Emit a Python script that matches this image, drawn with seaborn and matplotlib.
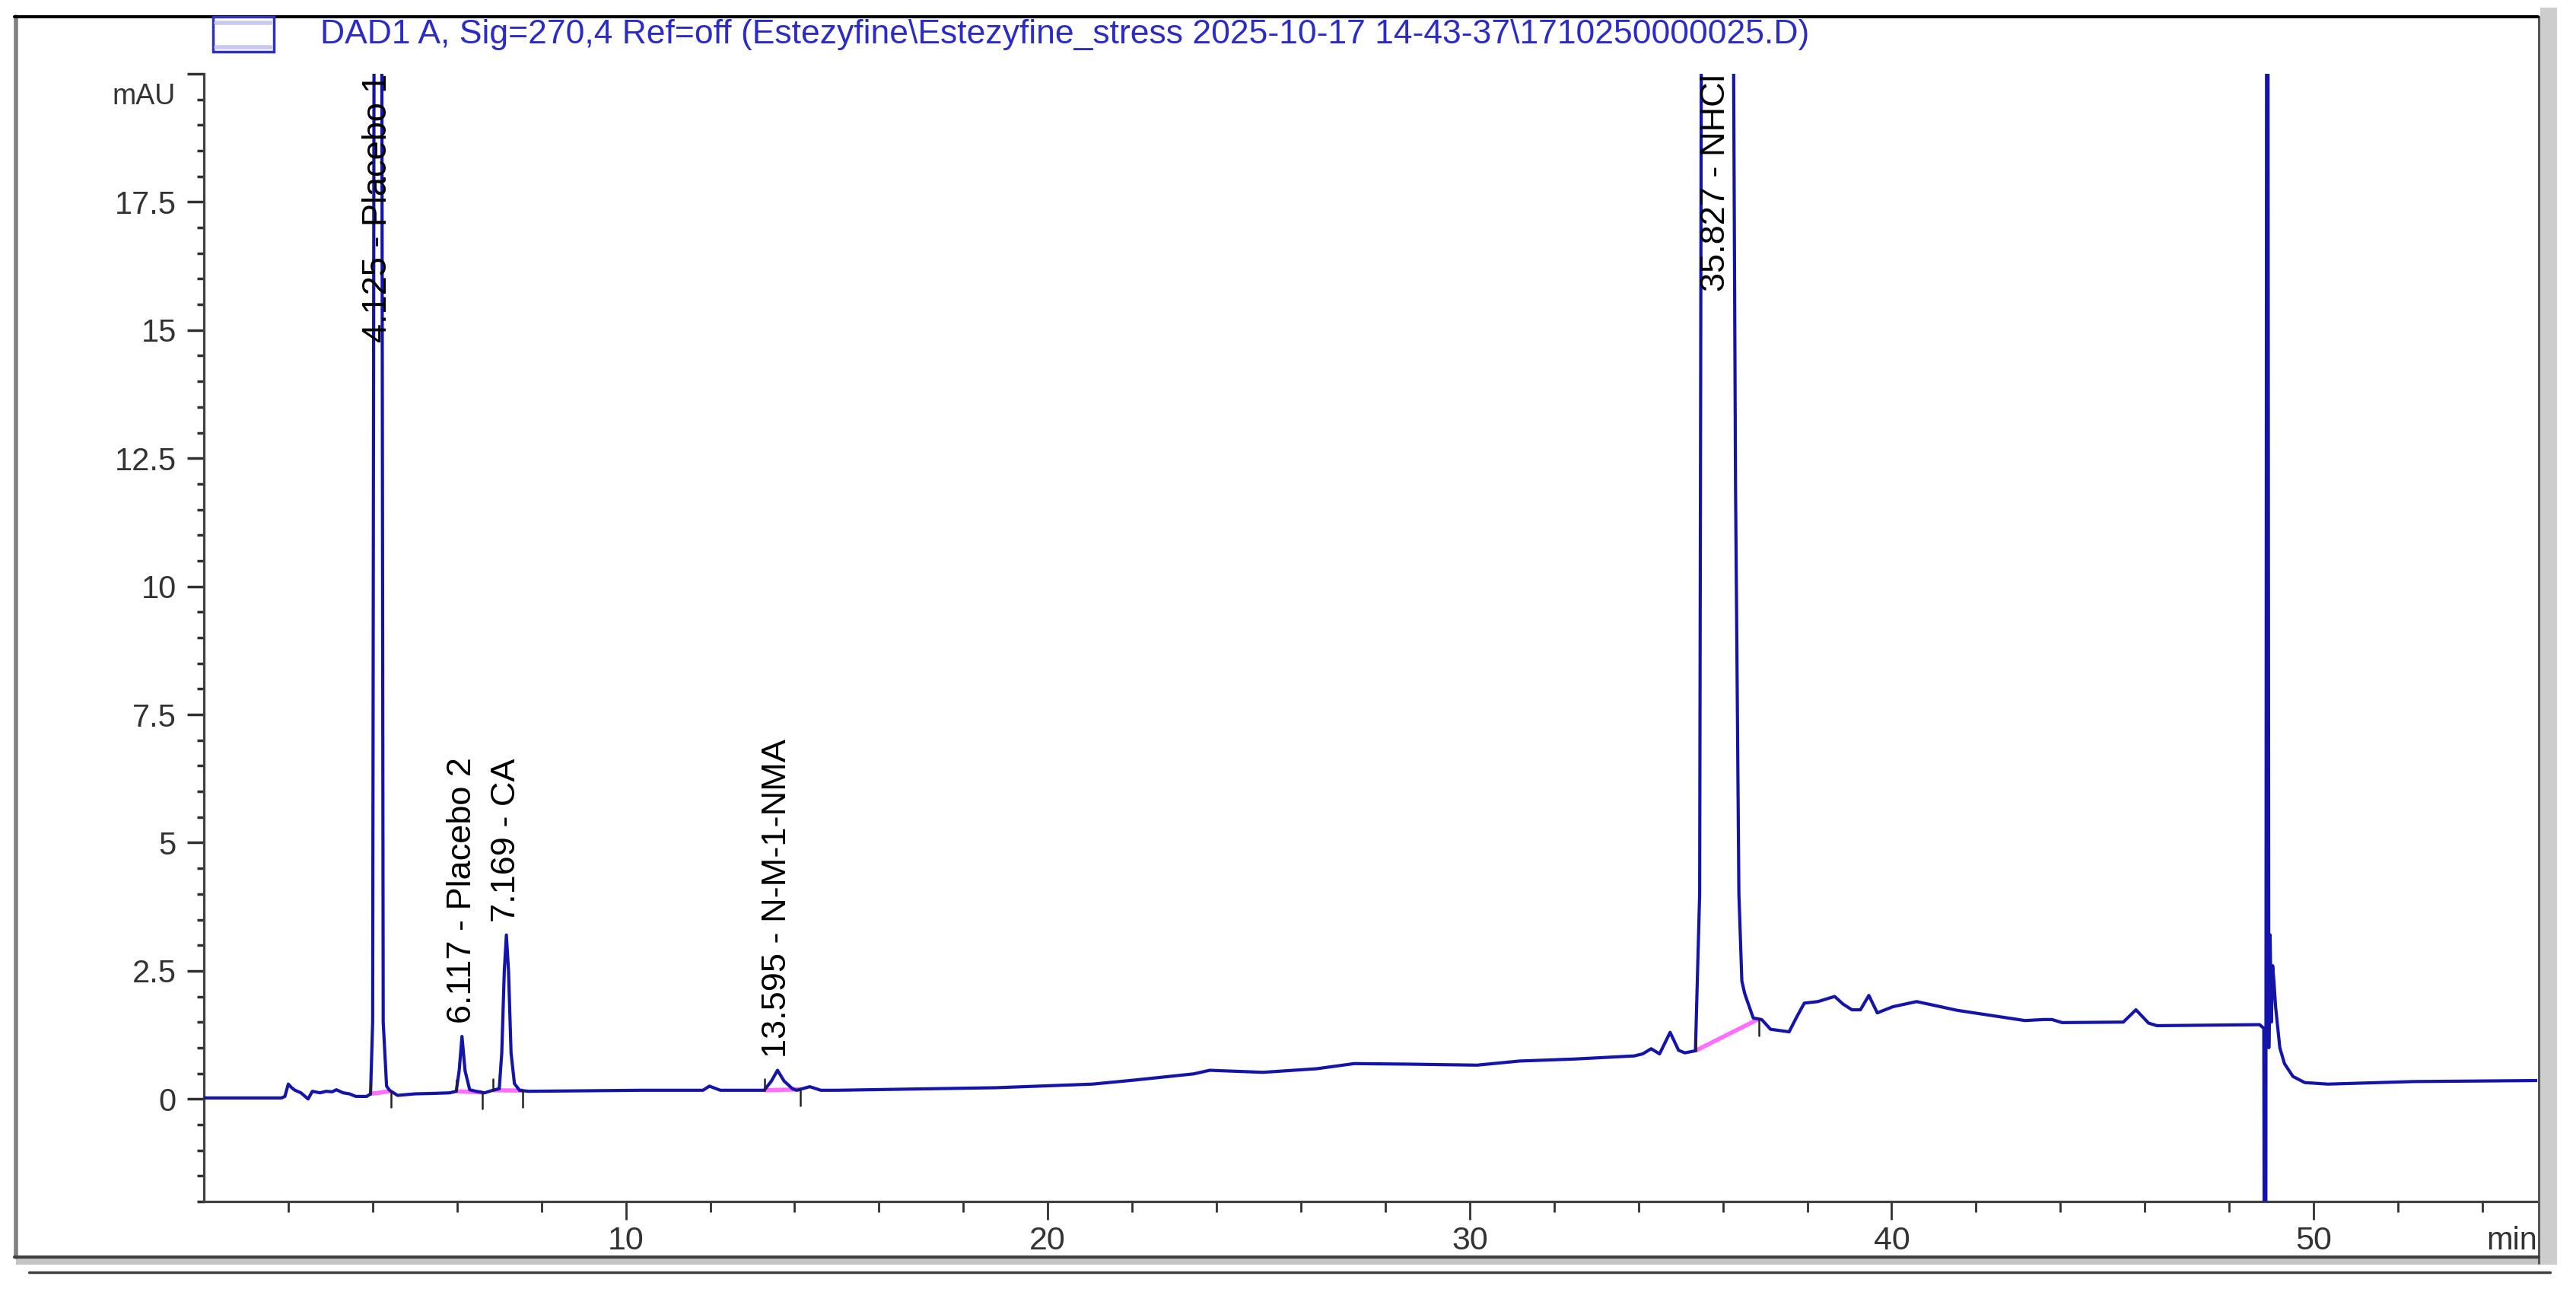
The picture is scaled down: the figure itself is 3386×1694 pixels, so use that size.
import numpy as np
import seaborn as sns
import matplotlib.pyplot as plt
from matplotlib.lines import Line2D
from matplotlib.patches import Rectangle

# chromatogram trace (min, mAU)
time_min = [0.0, 1.84, 1.92, 2.0, 2.08, 2.16, 2.3, 2.47, 2.57, 2.75, 2.9, 3.04, 3.14, 3.3, 3.45,
            3.6, 3.86, 3.95, 4.0, 4.04, 4.125, 4.21, 4.25, 4.33, 4.40, 4.59, 5.0,
            5.5, 5.83, 5.98, 6.05, 6.117, 6.19, 6.3, 6.45, 6.65, 6.85, 7.0, 7.06, 7.12, 7.169,
            7.22, 7.28, 7.36, 7.48, 7.69, 9.0, 10.38, 11.83, 11.98, 12.24, 13.28, 13.45, 13.595,
            13.75, 13.95, 14.05, 14.36, 14.62, 15.0, 16.5, 18.78, 21.06, 22.07, 23.0, 23.46,
            23.84, 25.1, 26.37, 27.26, 28.5, 30.17, 31.18, 32.5, 33.9, 34.1, 34.3, 34.5, 34.75,
            34.95, 35.1, 35.35, 35.45, 35.5, 35.827, 36.2, 36.3, 36.38, 36.45, 36.52, 36.72,
            36.92, 37.13, 37.57, 37.75, 37.93, 38.25, 38.45, 38.65, 38.85, 39.06, 39.26, 39.46,
            39.66, 40.03, 40.59, 40.99, 41.55, 42.36, 43.16, 43.6, 43.8, 44.04, 45.49, 45.79,
            46.09, 46.29, 48.72, 48.82, 48.86, 48.90, 48.94, 48.97, 49.0, 49.03, 49.06, 49.1,
            49.2, 49.31, 49.51, 49.79, 50.34, 52.37, 55.3]
signal_mau = [0.02, 0.02, 0.05, 0.29, 0.22, 0.17, 0.12, 0.0, 0.15, 0.12, 0.15, 0.14, 0.18, 0.12, 0.10,
              0.05, 0.05, 0.10, 1.5, 25.0, 80.0, 25.0, 1.5, 0.25, 0.17, 0.07, 0.10,
              0.11, 0.12, 0.15, 0.55, 1.22, 0.55, 0.18, 0.15, 0.12, 0.17, 0.20, 0.9, 2.5, 3.2,
              2.5, 0.9, 0.3, 0.17, 0.15, 0.16, 0.17, 0.17, 0.25, 0.17, 0.17, 0.35, 0.56,
              0.35, 0.20, 0.17, 0.24, 0.17, 0.17, 0.19, 0.22, 0.29, 0.37, 0.45, 0.49,
              0.56, 0.52, 0.59, 0.69, 0.68, 0.66, 0.74, 0.78, 0.84, 0.88, 0.98, 0.88, 1.30,
              0.95, 0.90, 0.94, 4.0, 25.0, 60.0, 30.0, 12.0, 4.0, 2.3, 2.05, 1.58,
              1.55, 1.36, 1.31, 1.6, 1.87, 1.90, 1.95, 2.0, 1.85, 1.74, 1.74, 2.02,
              1.68, 1.80, 1.90, 1.83, 1.73, 1.63, 1.53, 1.55, 1.55, 1.49, 1.50, 1.74,
              1.48, 1.43, 1.45, 1.38, -15.0, 40.0, 1.0, 3.2, 1.5, 2.6, 2.3, 1.8,
              1.0, 0.69, 0.44, 0.32, 0.29, 0.34, 0.36]

# integrated peaks
peak_times = [4.125, 6.117, 7.169, 13.595, 35.827]
peak_names = ["Placebo 1", "Placebo 2", "CA", "N-M-1-NMA", "NHCl"]
peak_start = [3.95, 5.98, 6.85, 13.28, 35.35]
peak_end = [4.43, 6.60, 7.55, 14.13, 36.85]

x_major = [10, 20, 30, 40, 50]
x_labels = ["10", "20", "30", "40", "50"]
y_major = [0, 2.5, 5, 7.5, 10, 12.5, 15, 17.5, 20]
y_labels = ["0", "2.5", "5", "7.5", "10", "12.5", "15", "17.5", ""]

legend_text = r"DAD1 A, Sig=270,4 Ref=off (Estezyfine\Estezyfine_stress 2025-10-17 14-43-37\1710250000025.D)"

sns.set_theme(style="white")
plt.rcParams["font.family"] = ["Liberation Sans", "DejaVu Sans"]

W, H = 3387, 1694
fig = plt.figure(figsize=(W / 100, H / 100), dpi=100)
fig.patch.set_facecolor("white")


def fx(px):
    return px / W


def fy(py):
    return 1 - py / H


ax = fig.add_axes([fx(268), fy(1579), fx(3335) - fx(268), fy(97) - fy(1579)])
ax.set_facecolor("white")

trace_color = "#1414aa"
sns.lineplot(x=time_min, y=signal_mau, ax=ax, color=trace_color, linewidth=3.0,
             estimator=None, sort=False, zorder=3)

ax.set_xlim(0, 55.3)
ax.set_ylim(-2, 20)
ax.set_xlabel("")
ax.set_ylabel("")

for s in ["top", "right"]:
    ax.spines[s].set_visible(False)
for s in ["left", "bottom"]:
    ax.spines[s].set_color("#404040")
    ax.spines[s].set_linewidth(2.3)

ax.set_xticks(x_major)
ax.set_xticklabels(x_labels)
ax.set_xticks(np.arange(2, 55, 2), minor=True)
ax.set_yticks(y_major)
ax.set_yticklabels(y_labels)
ax.set_yticks(np.arange(-2, 20.01, 0.5), minor=True)

ax.tick_params(bottom=True, left=True, which="both", direction="out", color="#303030")
ax.tick_params(axis="x", which="major", length=17, width=2, pad=6, labelsize=31, labelcolor="#333333")
ax.tick_params(axis="x", which="minor", length=10, width=2)
ax.tick_params(axis="y", which="major", length=16, width=2.5, pad=10, labelsize=30, labelcolor="#333333")
ax.tick_params(axis="y", which="minor", length=6.5, width=2.5)

ax.annotate("mAU", xy=(0, 19.55), xycoords=("axes fraction", "data"), xytext=(-27, 0),
            textcoords="offset points", ha="right", va="center", fontsize=27, color="#333333")
ax.annotate("min", xy=(1, 0), xycoords="axes fraction", xytext=(0, -23),
            textcoords="offset points", ha="right", va="top", fontsize=30, color="#333333")

# integration baselines and peak boundary marks
for t0, t1 in zip(peak_start, peak_end):
    b0 = np.interp(t0, time_min, signal_mau)
    b1 = np.interp(t1, time_min, signal_mau)
    ax.plot([t0, t1], [b0, b1], color="#ff3dff", lw=4, alpha=0.75, zorder=2,
            solid_capstyle="butt")
    ax.plot([t0, t0], [b0, b0 + 0.22], color="#222222", lw=1.8, zorder=4)
    ax.plot([t1, t1], [b1, b1 - 0.32], color="#222222", lw=1.8, zorder=4)

# peak labels
tarr = np.array(time_min)
sarr = np.array(signal_mau)
top = ax.get_ylim()[1]
for t, name in zip(peak_times, peak_names):
    apex = sarr[np.abs(tarr - t) < 0.12].max()
    txt = f"{t:.3f} - {name}"
    if apex >= top:
        ax.text(t, top, txt, rotation=90, ha="center", va="top", fontsize=32.5,
                color="black", zorder=5)
    else:
        ax.text(t, apex + 0.25, txt, rotation=90, ha="center", va="bottom", fontsize=32.5,
                color="black", zorder=5)

# legend box + title
fig.patches.append(Rectangle((fx(280), fy(68)), fx(80), fy(22) - fy(68), transform=fig.transFigure,
                             facecolor="white", edgecolor="#3030b8", lw=2.5, zorder=6))
fig.add_artist(Line2D([fx(284), fx(356)], [fy(30), fy(30)], transform=fig.transFigure,
                      color="#c8c8f0", lw=4, zorder=7))
fig.add_artist(Line2D([fx(284), fx(356)], [fy(62), fy(62)], transform=fig.transFigure,
                      color="#c8c8f0", lw=4, zorder=7))
fig.text(fx(421), fy(46), legend_text, ha="left", va="center", fontsize=32, color="#2b2bc8")

# window frame
fig.add_artist(Line2D([fx(19), fx(3336)], [fy(22), fy(22)], transform=fig.transFigure,
                      color="black", lw=3, zorder=5))
fig.add_artist(Line2D([fx(21), fx(21)], [fy(22), fy(1652)], transform=fig.transFigure,
                      color="#808080", lw=4))
fig.add_artist(Line2D([fx(3337), fx(3337)], [fy(22), fy(1660)], transform=fig.transFigure,
                      color="#555555", lw=2.2))
fig.patches.append(Rectangle((fx(3339), fy(1662)), fx(22), fy(10) - fy(1662), transform=fig.transFigure,
                             facecolor="#cdcdcd", edgecolor="none"))
fig.add_artist(Line2D([fx(19), fx(3337)], [fy(1652), fy(1652)], transform=fig.transFigure,
                      color="#404040", lw=3))
fig.patches.append(Rectangle((fx(21), fy(1662)), fx(3316), fy(1654) - fy(1662), transform=fig.transFigure,
                             facecolor="#c4c4c4", edgecolor="none"))
fig.add_artist(Line2D([fx(38), fx(3352)], [fy(1672), fy(1672)], transform=fig.transFigure,
                      color="#404040", lw=2.5))

fig.savefig("out.png", dpi=100, facecolor="white")
